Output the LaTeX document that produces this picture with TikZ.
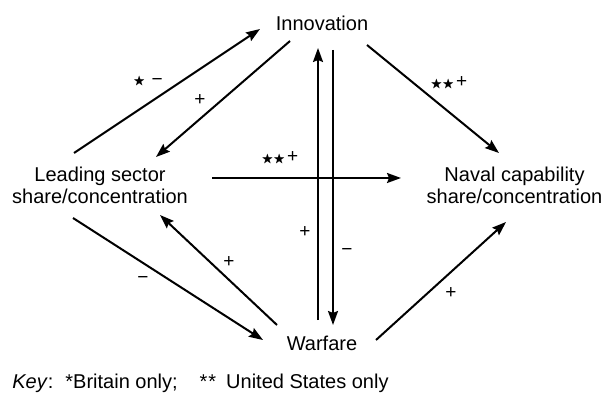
\documentclass[tikz,border=0pt]{standalone}
\usepackage{amssymb}
\usepackage{fontspec}
\setmainfont{Liberation Sans}
\usetikzlibrary{arrows.meta}

\newcommand{\mystar}{\raisebox{0.3pt}{\fontsize{6}{6}\selectfont$\bigstar$}}

\tikzset{
	box/.style={inner sep=0pt, align=center, font=\fontsize{10}{11}\selectfont},
	sign/.style={inner sep=0pt, font=\fontsize{9.5}{10}\selectfont},
	link/.style={line width=1pt, -{Stealth[length=7pt, width=5pt, inset=1pt]}},
}

\begin{document}
\begin{tikzpicture}[x=0.5pt, y=-0.5pt]
	\useasboundingbox (0,0) rectangle (608,394);
	
	\node[box] (innov) at (322,23) {Innovation};
	\node[box] (lead) at (100,185) {Leading sector\\share/concentration};
	\node[box] (naval) at (514.5,185) {Naval capability\\share/concentration};
	\node[box] (war) at (322,343) {Warfare};
	\node[box, anchor=base west] (key) at (12,388) {\textit{Key}:\hspace{6pt}*Britain only;\hspace{11pt}*\hspace{0.5pt}*\hspace{5pt}United States only};
	
	\draw[link] ([shift={(-26,-32)}]lead.center) -- ([shift={(-62,6)}]innov.center);
	\draw[link] ([shift={(-32,18)}]innov.center) -- ([shift={(56,-28)}]lead.center);
	\draw[link] ([shift={(45,22)}]innov.center) -- ([shift={(-15.5,-32)}]naval.center);
	\draw[link] ([shift={(112,-7)}]lead.center) -- ([shift={(-113.5,-7)}]naval.center);
	\draw[link] ([shift={(-4,-23)}]war.center) -- ([shift={(-4,25)}]innov.center);
	\draw[link] ([shift={(11,27)}]innov.center) -- ([shift={(11,-18)}]war.center);
	\draw[link] ([shift={(-45,-18)}]war.center) -- ([shift={(60,30)}]lead.center);
	\draw[link] ([shift={(-27,33)}]lead.center) -- ([shift={(-59,-3)}]war.center);
	\draw[link] ([shift={(54,-3)}]war.center) -- ([shift={(-8.5,37)}]naval.center);
	
	% signs on the links
	\node[sign] (s1) at (148,82) {\mystar\,\,−};
	\node[sign] (s2) at (200,100) {+};
	\node[sign] (s3) at (449,83) {\mystar\mystar\hspace{1pt}+};
	\node[sign] (s4) at (280,158) {\mystar\mystar\hspace{1pt}+};
	\node[sign] (s5) at (305,232) {+};
	\node[sign] (s6) at (347,252) {−};
	\node[sign] (s7) at (229,262) {+};
	\node[sign] (s8) at (143,280) {−};
	\node[sign] (s9) at (451,293) {+};
\end{tikzpicture}
\end{document}
